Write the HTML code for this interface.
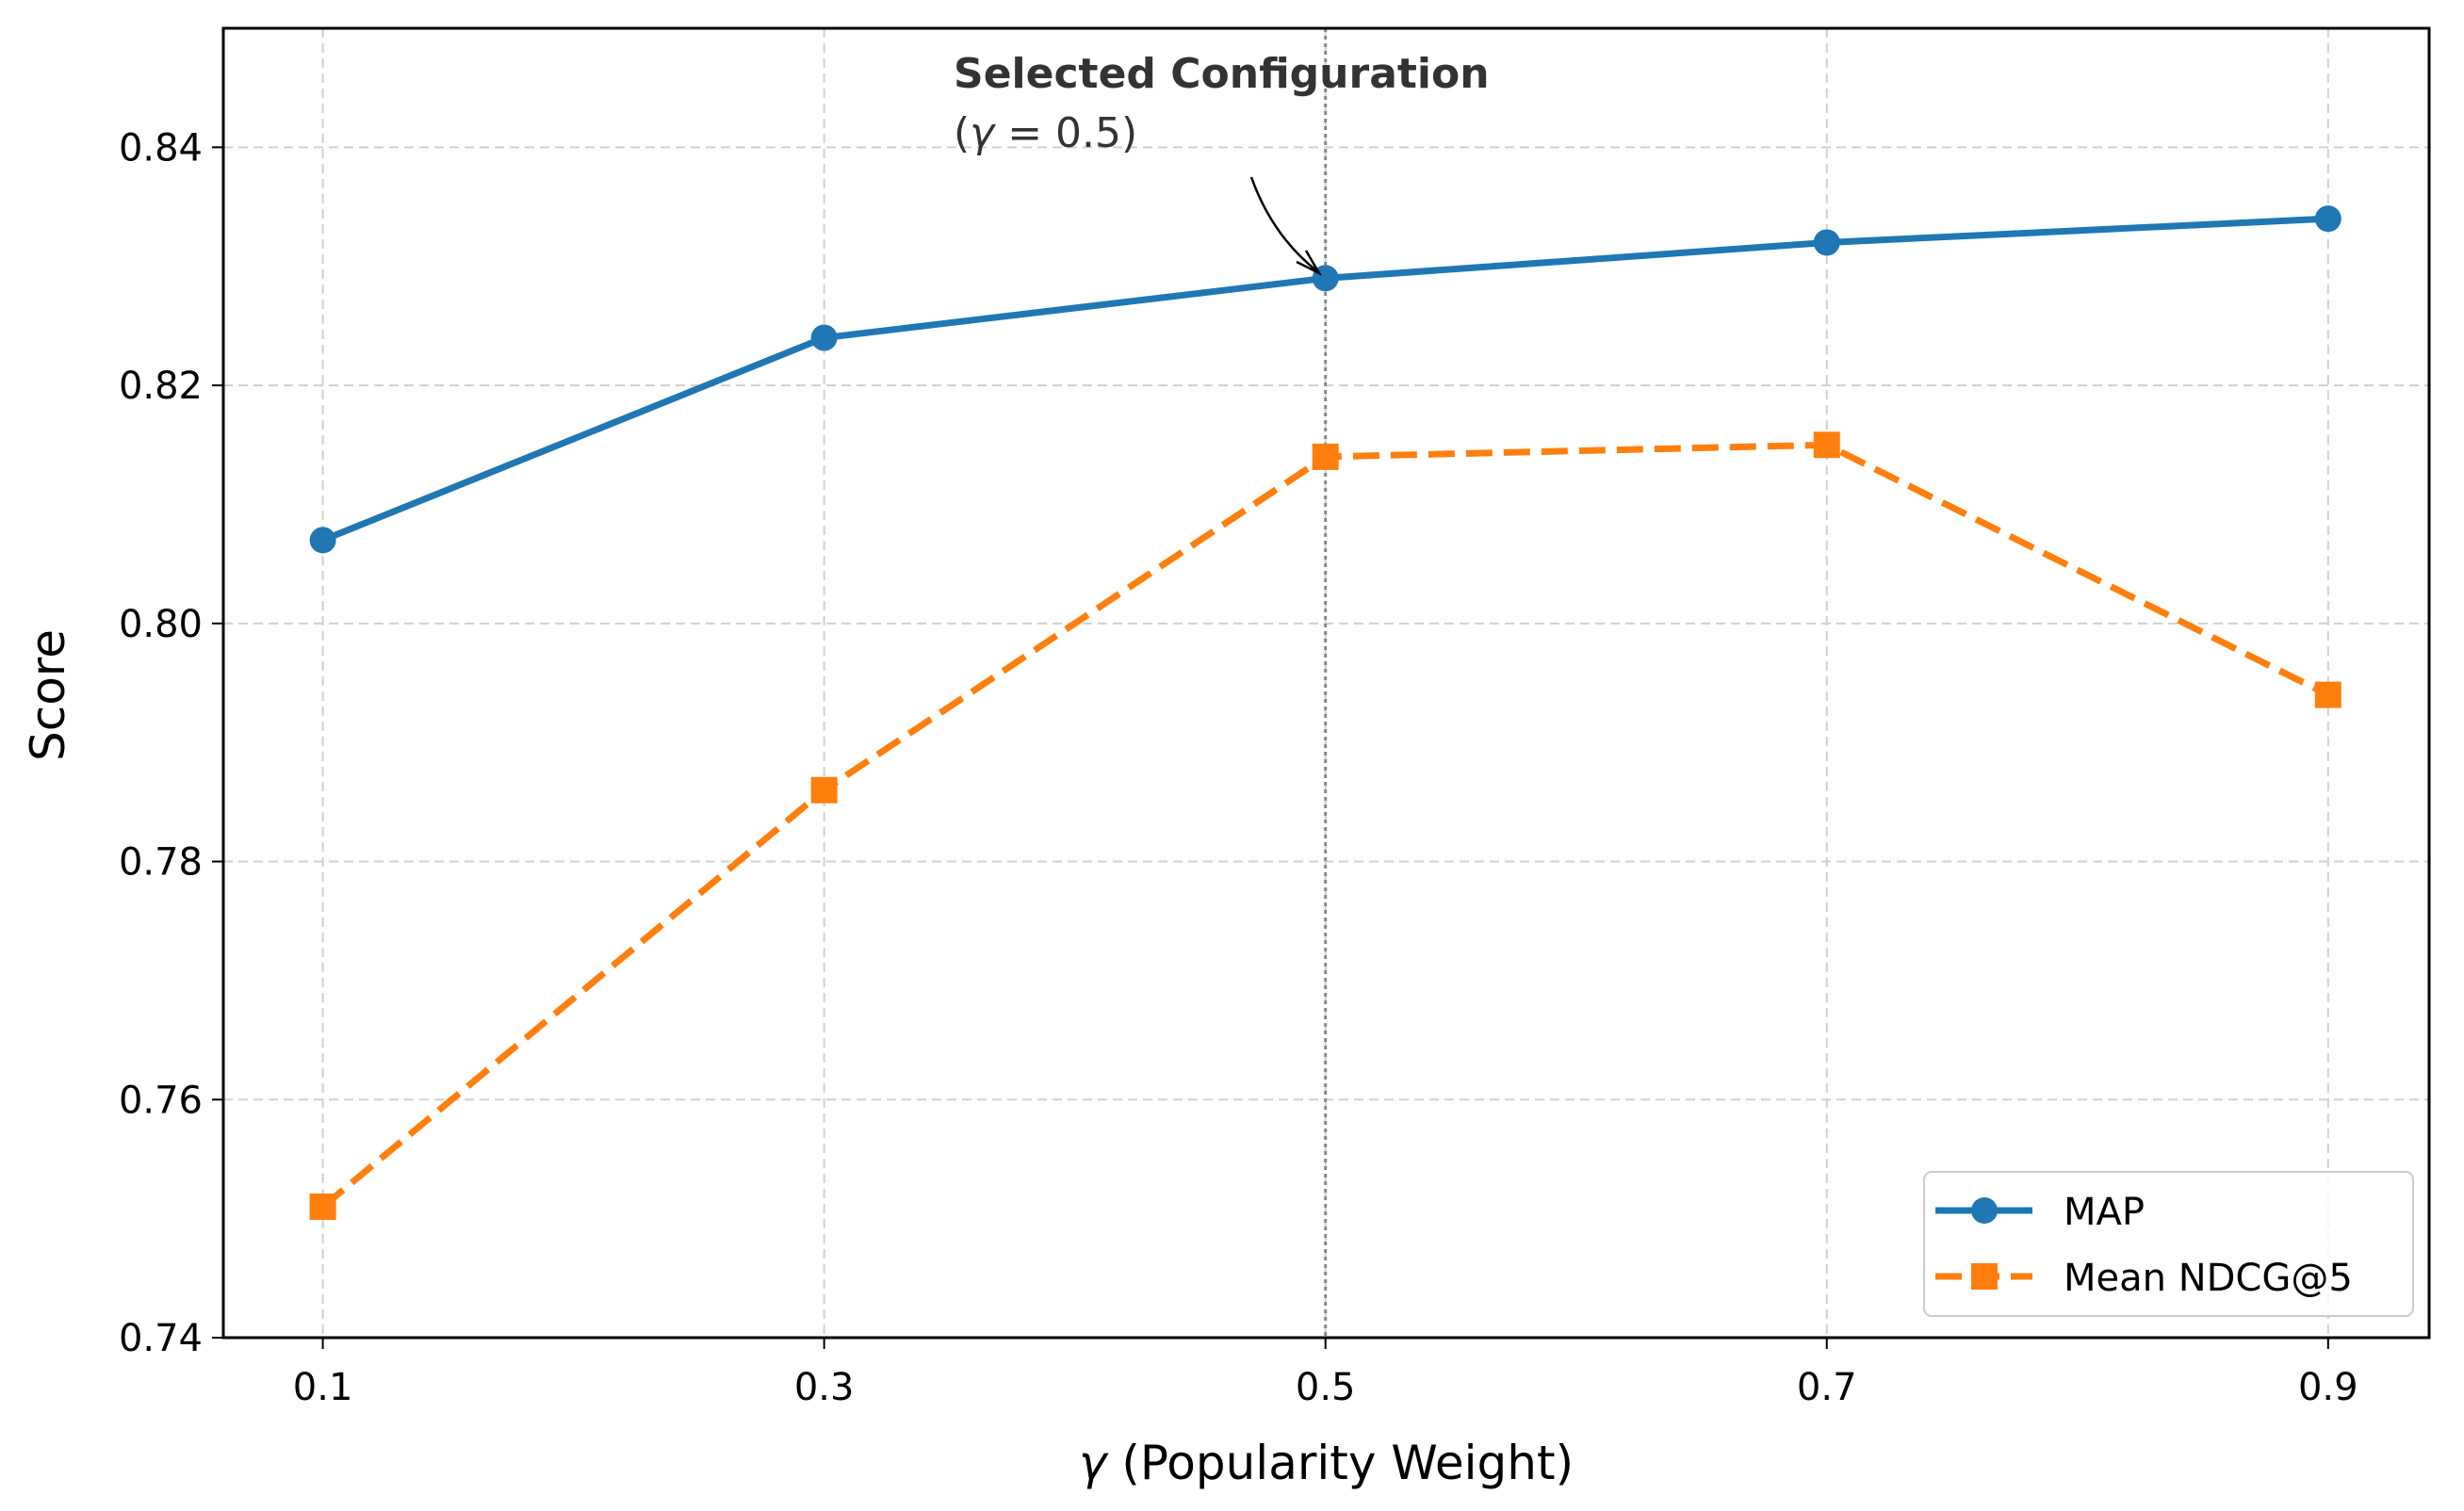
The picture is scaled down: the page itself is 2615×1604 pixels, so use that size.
<!DOCTYPE html>
<html><head><meta charset="utf-8"><style>
html,body{margin:0;padding:0;background:#fff;}
svg{display:block;font-family:"DejaVu Sans","Liberation Sans",sans-serif;}
</style></head><body>
<svg id="chart" width="2615" height="1604" viewBox="0 0 2615 1604" xmlns="http://www.w3.org/2000/svg">
<g id="grid"></g>
<g id="axes"></g>
<g id="series"></g>
<g id="annot">
<text x="1012" y="93" font-size="44" font-weight="bold" fill="#333">Selected Configuration</text>
<text x="1012" y="156" font-size="44" fill="#333">(<tspan font-style="italic">γ</tspan> = 0.5)</text>
<path d="M1328,188 Q1350,250 1398,288" fill="none" stroke="#000" stroke-width="2.5"/>
<path d="M1376,278 L1400,290 L1386,266" fill="none" stroke="#000" stroke-width="2.5"/>
</g>
<g id="legend">
<rect x="2042" y="1244" width="519" height="153" rx="8" fill="#fff" fill-opacity="0.8" stroke="#ccc" stroke-width="2"/>
<g>
<line x1="2054" y1="1285" x2="2157" y2="1285" stroke="#1f77b4" stroke-width="7"/>
<circle cx="2106" cy="1285" r="14" fill="#1f77b4"/>
<text x="2190" y="1300" font-size="40" fill="#000">MAP</text>
</g>
<g>
<line x1="2054" y1="1355" x2="2157" y2="1355" stroke="#ff7f0e" stroke-width="7" stroke-dasharray="28,12"/>
<rect x="2092" y="1341" width="28" height="28" fill="#ff7f0e"/>
<text x="2190" y="1370" font-size="40" fill="#000">Mean NDCG@5</text>
</g>
</g>
</svg>
<script>
const categories = [0.1, 0.3, 0.5, 0.7, 0.9];
const mapValues = [0.807, 0.824, 0.829, 0.832, 0.834];
const ndcgValues = [0.751, 0.786, 0.814, 0.815, 0.794];
const yTicks = [0.74, 0.76, 0.78, 0.80, 0.82, 0.84];
const yTickLabels = ["0.74", "0.76", "0.78", "0.80", "0.82", "0.84"];
const xTickLabels = ["0.1", "0.3", "0.5", "0.7", "0.9"];
const selectedX = 0.5;

const NS = "http://www.w3.org/2000/svg";
const L = 237, R = 2578, T = 30, B = 1420;
const xMin = 0.0603, xMax = 0.9403, yMin = 0.74, yMax = 0.85;
function xs(v){ return L + (v - xMin) / (xMax - xMin) * (R - L); }
function ys(v){ return B - (v - yMin) / (yMax - yMin) * (B - T); }
function mk(tag, attrs, parent){ const e = document.createElementNS(NS, tag); for (const k in attrs) e.setAttribute(k, attrs[k]); parent.appendChild(e); return e; }

const grid = document.getElementById('grid');
const axes = document.getElementById('axes');
const series = document.getElementById('series');

categories.forEach((c, i) => {
  const g = mk('line', {x1: xs(c), x2: xs(c), y1: T, y2: B, stroke: '#d0d0d0', 'stroke-width': 2, 'stroke-dasharray': '10,6'}, grid);
  
  
  const t = mk('line', {x1: xs(c), x2: xs(c), y1: B, y2: B + 12, stroke: '#000', 'stroke-width': 2}, axes);
  
  
  const lb = mk('text', {x: xs(c), y: B + 66, 'font-size': 40, 'text-anchor': 'middle', fill: '#000'}, axes);
  lb.textContent = xTickLabels[i];
  
  
});
yTicks.forEach((v, i) => {
  const g = mk('line', {x1: L, x2: R, y1: ys(v), y2: ys(v), stroke: '#d0d0d0', 'stroke-width': 2, 'stroke-dasharray': '10,6'}, grid);
  
  
  const t = mk('line', {x1: L - 12, x2: L, y1: ys(v), y2: ys(v), stroke: '#000', 'stroke-width': 2}, axes);
  
  
  const lb = mk('text', {x: L - 22, y: ys(v) + 14, 'font-size': 40, 'text-anchor': 'end', fill: '#000'}, axes);
  lb.textContent = yTickLabels[i];
  
  
});
const vline = mk('line', {x1: xs(selectedX), x2: xs(selectedX), y1: T, y2: B, stroke: '#888', 'stroke-width': 3, 'stroke-dasharray': '4,4'}, grid);



const frame = mk('rect', {x: L, y: T, width: R - L, height: B - T, fill: 'none', stroke: '#000', 'stroke-width': 3}, axes);



const xl = mk('text', {x: (L + R) / 2, y: 1570, 'font-size': 50, 'text-anchor': 'middle', fill: '#000'}, axes);
xl.innerHTML = '<tspan font-style="italic">γ</tspan> (Popularity Weight)';


const yl = mk('text', {x: 0, y: 0, 'font-size': 50, 'text-anchor': 'middle', fill: '#000', transform: 'translate(68,738) rotate(-90)'}, axes);
yl.textContent = 'Score';



const ndPts = categories.map((c, i) => xs(c) + ',' + ys(ndcgValues[i])).join(' ');
const ndLine = mk('polyline', {points: ndPts, fill: 'none', stroke: '#ff7f0e', 'stroke-width': 7, 'stroke-dasharray': '28,12'}, series);


categories.forEach((c, i) => {
  const m = mk('rect', {x: xs(c) - 14, y: ys(ndcgValues[i]) - 14, width: 28, height: 28, fill: '#ff7f0e'}, series);
  
  
});
const mapPts = categories.map((c, i) => xs(c) + ',' + ys(mapValues[i])).join(' ');
const mapLine = mk('polyline', {points: mapPts, fill: 'none', stroke: '#1f77b4', 'stroke-width': 7}, series);


categories.forEach((c, i) => {
  const m = mk('circle', {cx: xs(c), cy: ys(mapValues[i]), r: 14, fill: '#1f77b4'}, series);
  
  
});
</script>
</body></html>
